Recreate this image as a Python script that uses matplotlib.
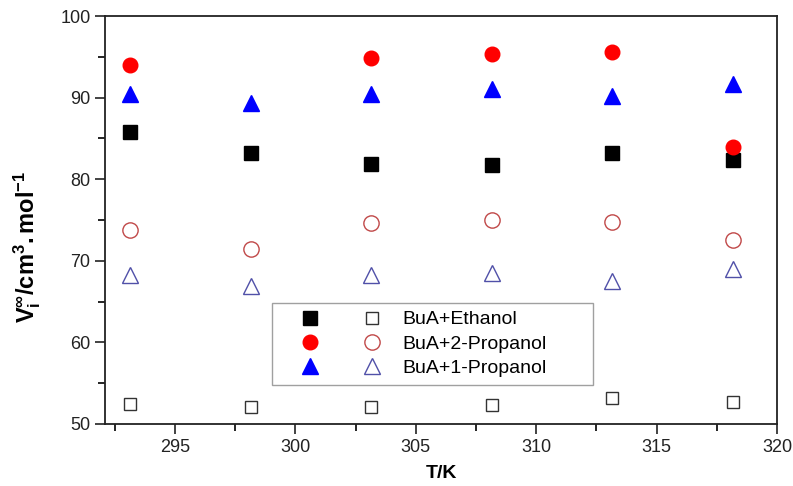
import numpy as np
import matplotlib
matplotlib.use("Agg")
import matplotlib.pyplot as plt
from matplotlib.legend_handler import HandlerTuple
from matplotlib.ticker import MultipleLocator

plt.rcParams['font.family'] = ['Liberation Sans', 'DejaVu Sans']
plt.rcParams['mathtext.fontset'] = 'custom'
plt.rcParams['mathtext.rm'] = 'Liberation Sans'
plt.rcParams['mathtext.bf'] = 'Liberation Sans:bold'
plt.rcParams['mathtext.it'] = 'Liberation Sans:italic'

# Temperatures (K)
temperature = [293.15, 298.15, 303.15, 308.15, 313.15, 318.15]

# Filled markers: one set of molar volumes per binary system
ethanol_filled = [85.8, 83.2, 81.9, 81.7, 83.2, 82.3]
propanol2_filled = [94.0, np.nan, 94.9, 95.3, 95.6, 83.9]
propanol1_filled = [90.4, 89.3, 90.5, 91.0, 90.2, 91.7]

# Open markers: second set of molar volumes per binary system
ethanol_open = [52.5, 52.1, 52.1, 52.3, 53.2, 52.7]
propanol2_open = [73.8, 71.4, 74.6, 75.0, 74.8, 72.6]
propanol1_open = [68.3, 66.9, 68.2, 68.5, 67.5, 69.0]

labels = ["BuA+Ethanol", "BuA+2-Propanol", "BuA+1-Propanol"]

fig = plt.figure(figsize=(7.93, 4.86), dpi=100)
ax = fig.add_axes([0.1324, 0.1276, 0.8476, 0.8394])

h1f, = ax.plot(temperature, ethanol_filled, ls='none', marker='s', ms=9.5,
               mfc='black', mec='black')
h2f, = ax.plot(temperature, propanol2_filled, ls='none', marker='o', ms=10.5,
               mfc='#ff0000', mec='#ff0000')
h3f, = ax.plot(temperature, propanol1_filled, ls='none', marker='^', ms=11,
               mfc='#0000ff', mec='#0000ff')
h1o, = ax.plot(temperature, ethanol_open, ls='none', marker='s', ms=9,
               mfc='none', mec='#333333', mew=1.0)
h2o, = ax.plot(temperature, propanol2_open, ls='none', marker='o', ms=11,
               mfc='none', mec='#c04848', mew=1.0)
h3o, = ax.plot(temperature, propanol1_open, ls='none', marker='^', ms=12,
               mfc='none', mec='#5050a8', mew=1.0)

ax.set_xlim(292.1, 320)
ax.set_ylim(50, 100)
ax.xaxis.set_major_locator(MultipleLocator(5))
ax.xaxis.set_minor_locator(MultipleLocator(2.5))
ax.yaxis.set_major_locator(MultipleLocator(10))
ax.yaxis.set_minor_locator(MultipleLocator(5))
ax.tick_params(which='major', direction='out', length=7, width=1.2,
               labelsize=13, colors='#222222')
ax.tick_params(which='minor', direction='out', length=5, width=1.2)
ax.tick_params(top=False, right=False, which='both')
for s in ax.spines.values():
    s.set_linewidth(1.3)
    s.set_color('#222222')

ax.set_xlabel('T/K', fontsize=14, fontweight='bold', labelpad=7)
ax.set_ylabel(r'$\mathbf{V_i^{\infty}/cm^{3}.mol^{-1}}$', fontsize=17)
ax.yaxis.set_label_coords(-0.092, 0.434)

leg = ax.legend([(h1f, h1o), (h2f, h2o), (h3f, h3o)], labels,
                handler_map={tuple: HandlerTuple(ndivide=None, pad=0.0)},
                handlelength=6.3, handletextpad=0.0, fontsize=14,
                loc='upper left', bbox_to_anchor=(0.2485, 0.0995, 0.4777, 0.1971),
                mode='expand',
                frameon=True, fancybox=False, edgecolor='#888888',
                borderpad=0.4, labelspacing=0.35, borderaxespad=0)
leg.get_frame().set_linewidth(1.0)

fig.savefig('out.png', dpi=100)
